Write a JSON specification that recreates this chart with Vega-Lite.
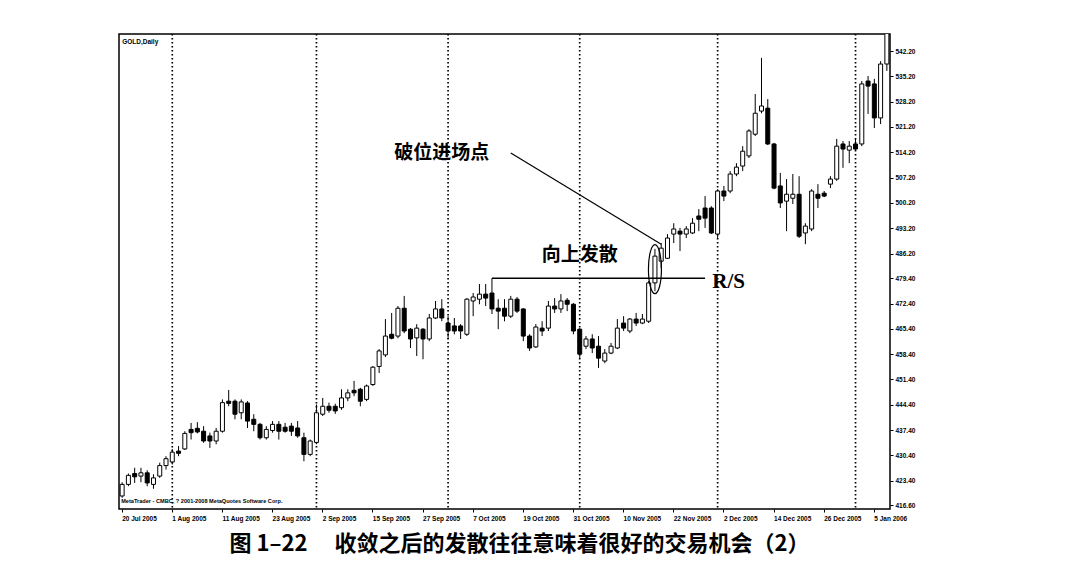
{
  "$schema": "https://vega.github.io/schema/vega-lite/v6.json",
  "width": 771,
  "height": 475,
  "padding": {"left": 119, "top": 33, "right": 5, "bottom": 5},
  "background": "white",
  "title": {"text": "图 1–22　 收敛之后的发散往往意味着很好的交易机会（2）", "orient": "bottom", "anchor": "middle", "font": "Noto Sans CJK SC", "fontSize": 22, "fontWeight": "bold", "color": "black", "offset": 12, "dx": 15},
  "datasets": {
    "gold": [
      {"d":"2005-07-20","o":419.2,"h":423.0,"l":418.7,"c":422.4},
      {"d":"2005-07-21","o":422.4,"h":425.4,"l":421.9,"c":424.9},
      {"d":"2005-07-22","o":425.4,"h":427.0,"l":422.8,"c":424.5},
      {"d":"2005-07-25","o":424.7,"h":427.0,"l":423.0,"c":425.6},
      {"d":"2005-07-26","o":425.6,"h":426.3,"l":421.9,"c":422.8},
      {"d":"2005-07-27","o":422.4,"h":425.2,"l":421.2,"c":424.2},
      {"d":"2005-07-28","o":424.7,"h":428.4,"l":424.2,"c":427.6},
      {"d":"2005-07-29","o":427.6,"h":430.2,"l":426.5,"c":429.5},
      {"d":"2005-08-01","o":428.6,"h":432.2,"l":427.9,"c":431.3},
      {"d":"2005-08-02","o":431.6,"h":433.0,"l":430.2,"c":431.0},
      {"d":"2005-08-03","o":432.2,"h":437.1,"l":431.9,"c":436.5},
      {"d":"2005-08-04","o":437.6,"h":439.4,"l":434.8,"c":436.7},
      {"d":"2005-08-05","o":437.9,"h":439.6,"l":436.5,"c":436.9},
      {"d":"2005-08-08","o":437.1,"h":438.5,"l":433.9,"c":434.4},
      {"d":"2005-08-09","o":435.8,"h":436.7,"l":432.5,"c":434.4},
      {"d":"2005-08-10","o":434.4,"h":438.0,"l":433.5,"c":437.1},
      {"d":"2005-08-11","o":437.1,"h":445.9,"l":436.7,"c":445.0},
      {"d":"2005-08-12","o":445.4,"h":448.5,"l":444.0,"c":444.8},
      {"d":"2005-08-15","o":445.4,"h":445.9,"l":440.4,"c":441.8},
      {"d":"2005-08-16","o":442.2,"h":445.9,"l":440.4,"c":445.2},
      {"d":"2005-08-17","o":444.9,"h":445.4,"l":438.0,"c":439.9},
      {"d":"2005-08-18","o":440.4,"h":441.8,"l":437.1,"c":439.0},
      {"d":"2005-08-19","o":439.0,"h":439.4,"l":434.8,"c":435.3},
      {"d":"2005-08-22","o":435.3,"h":438.5,"l":434.8,"c":437.6},
      {"d":"2005-08-23","o":437.3,"h":439.9,"l":436.7,"c":439.0},
      {"d":"2005-08-24","o":439.0,"h":439.9,"l":434.8,"c":437.1},
      {"d":"2005-08-25","o":438.2,"h":439.4,"l":436.7,"c":437.1},
      {"d":"2005-08-26","o":438.5,"h":439.4,"l":435.8,"c":437.1},
      {"d":"2005-08-29","o":438.0,"h":439.9,"l":435.3,"c":435.8},
      {"d":"2005-08-30","o":435.3,"h":436.7,"l":428.8,"c":430.7},
      {"d":"2005-08-31","o":430.7,"h":434.8,"l":430.2,"c":434.4},
      {"d":"2005-09-01","o":434.0,"h":444.5,"l":433.5,"c":442.2},
      {"d":"2005-09-02","o":441.8,"h":446.3,"l":441.3,"c":444.0},
      {"d":"2005-09-06","o":444.0,"h":445.0,"l":442.2,"c":442.9},
      {"d":"2005-09-07","o":444.0,"h":444.7,"l":441.9,"c":442.7},
      {"d":"2005-09-08","o":443.6,"h":448.7,"l":443.0,"c":446.3},
      {"d":"2005-09-09","o":446.3,"h":448.7,"l":445.4,"c":447.7},
      {"d":"2005-09-12","o":448.4,"h":451.0,"l":446.8,"c":447.7},
      {"d":"2005-09-13","o":448.7,"h":449.1,"l":444.0,"c":445.4},
      {"d":"2005-09-14","o":445.9,"h":450.0,"l":445.4,"c":449.6},
      {"d":"2005-09-15","o":450.0,"h":455.1,"l":449.6,"c":454.8},
      {"d":"2005-09-16","o":455.0,"h":459.8,"l":453.2,"c":459.3},
      {"d":"2005-09-19","o":458.2,"h":468.1,"l":457.6,"c":463.4},
      {"d":"2005-09-20","o":463.9,"h":469.8,"l":462.5,"c":462.8},
      {"d":"2005-09-21","o":463.4,"h":471.7,"l":462.8,"c":471.1},
      {"d":"2005-09-22","o":471.1,"h":474.5,"l":464.2,"c":464.8},
      {"d":"2005-09-23","o":465.3,"h":465.6,"l":460.1,"c":462.6},
      {"d":"2005-09-26","o":462.9,"h":466.7,"l":457.9,"c":465.6},
      {"d":"2005-09-27","o":465.3,"h":465.6,"l":457.0,"c":462.6},
      {"d":"2005-09-28","o":462.6,"h":469.5,"l":462.0,"c":468.4},
      {"d":"2005-09-29","o":468.4,"h":473.1,"l":468.1,"c":470.9},
      {"d":"2005-09-30","o":470.9,"h":473.6,"l":467.5,"c":468.4},
      {"d":"2005-10-03","o":467.0,"h":468.9,"l":462.6,"c":464.8},
      {"d":"2005-10-04","o":466.2,"h":468.4,"l":463.9,"c":464.8},
      {"d":"2005-10-05","o":466.2,"h":466.7,"l":462.6,"c":464.8},
      {"d":"2005-10-06","o":463.9,"h":473.9,"l":463.4,"c":473.6},
      {"d":"2005-10-07","o":473.1,"h":475.3,"l":468.9,"c":474.2},
      {"d":"2005-10-10","o":473.6,"h":477.8,"l":472.2,"c":475.0},
      {"d":"2005-10-11","o":475.0,"h":477.8,"l":471.7,"c":473.9},
      {"d":"2005-10-12","o":475.3,"h":479.4,"l":469.5,"c":470.9},
      {"d":"2005-10-13","o":471.1,"h":473.6,"l":465.3,"c":470.3},
      {"d":"2005-10-14","o":471.1,"h":473.6,"l":467.5,"c":468.9},
      {"d":"2005-10-17","o":468.9,"h":474.5,"l":468.4,"c":473.6},
      {"d":"2005-10-18","o":473.6,"h":474.2,"l":469.8,"c":470.3},
      {"d":"2005-10-19","o":470.9,"h":471.1,"l":462.0,"c":463.4},
      {"d":"2005-10-20","o":463.4,"h":463.9,"l":459.3,"c":460.1},
      {"d":"2005-10-21","o":460.4,"h":466.7,"l":460.1,"c":465.9},
      {"d":"2005-10-24","o":465.6,"h":467.5,"l":463.4,"c":464.8},
      {"d":"2005-10-25","o":465.6,"h":473.1,"l":464.8,"c":471.7},
      {"d":"2005-10-26","o":471.7,"h":473.9,"l":469.8,"c":470.9},
      {"d":"2005-10-27","o":470.9,"h":475.0,"l":469.8,"c":473.1},
      {"d":"2005-10-28","o":473.3,"h":473.9,"l":470.3,"c":472.2},
      {"d":"2005-10-31","o":472.2,"h":472.5,"l":463.9,"c":464.8},
      {"d":"2005-11-01","o":465.3,"h":465.6,"l":457.3,"c":458.4},
      {"d":"2005-11-02","o":460.6,"h":463.4,"l":459.8,"c":462.6},
      {"d":"2005-11-03","o":462.6,"h":463.9,"l":458.7,"c":460.1},
      {"d":"2005-11-04","o":460.6,"h":463.4,"l":454.6,"c":457.3},
      {"d":"2005-11-07","o":456.5,"h":459.8,"l":455.9,"c":458.7},
      {"d":"2005-11-08","o":458.7,"h":461.5,"l":458.4,"c":460.6},
      {"d":"2005-11-09","o":460.1,"h":468.1,"l":459.8,"c":465.6},
      {"d":"2005-11-10","o":467.0,"h":468.9,"l":464.8,"c":465.6},
      {"d":"2005-11-11","o":464.8,"h":468.4,"l":464.2,"c":468.1},
      {"d":"2005-11-14","o":468.1,"h":469.8,"l":466.2,"c":467.0},
      {"d":"2005-11-15","o":467.0,"h":469.5,"l":466.7,"c":468.1},
      {"d":"2005-11-16","o":467.5,"h":478.6,"l":467.0,"c":478.1},
      {"d":"2005-11-17","o":478.1,"h":487.5,"l":475.8,"c":485.5},
      {"d":"2005-11-18","o":484.1,"h":489.1,"l":482.2,"c":487.7},
      {"d":"2005-11-21","o":484.9,"h":491.6,"l":484.7,"c":490.5},
      {"d":"2005-11-22","o":491.6,"h":494.6,"l":489.1,"c":493.0},
      {"d":"2005-11-23","o":492.4,"h":493.3,"l":486.9,"c":491.6},
      {"d":"2005-11-24","o":491.6,"h":493.8,"l":490.5,"c":493.0},
      {"d":"2005-11-25","o":491.9,"h":496.0,"l":491.6,"c":494.6},
      {"d":"2005-11-28","o":496.6,"h":498.5,"l":492.4,"c":495.7},
      {"d":"2005-11-29","o":498.8,"h":502.1,"l":493.3,"c":496.0},
      {"d":"2005-11-30","o":498.8,"h":499.3,"l":491.6,"c":491.9},
      {"d":"2005-12-01","o":491.6,"h":504.0,"l":490.2,"c":503.5},
      {"d":"2005-12-02","o":503.5,"h":504.9,"l":500.7,"c":502.1},
      {"d":"2005-12-05","o":503.5,"h":509.0,"l":502.9,"c":508.2},
      {"d":"2005-12-06","o":508.2,"h":511.2,"l":507.6,"c":510.1},
      {"d":"2005-12-07","o":510.4,"h":515.9,"l":509.0,"c":514.5},
      {"d":"2005-12-08","o":513.2,"h":520.6,"l":512.6,"c":520.1},
      {"d":"2005-12-09","o":519.2,"h":530.3,"l":518.7,"c":525.0},
      {"d":"2005-12-12","o":525.6,"h":540.3,"l":525.0,"c":527.0},
      {"d":"2005-12-13","o":526.4,"h":528.9,"l":516.2,"c":516.5},
      {"d":"2005-12-14","o":516.5,"h":516.8,"l":504.0,"c":504.3},
      {"d":"2005-12-15","o":504.9,"h":508.5,"l":498.8,"c":500.2},
      {"d":"2005-12-16","o":500.7,"h":506.8,"l":492.4,"c":502.6},
      {"d":"2005-12-19","o":501.5,"h":508.2,"l":499.9,"c":502.6},
      {"d":"2005-12-20","o":502.6,"h":507.6,"l":490.5,"c":491.0},
      {"d":"2005-12-21","o":491.9,"h":494.6,"l":488.8,"c":493.8},
      {"d":"2005-12-22","o":493.0,"h":504.0,"l":492.4,"c":503.5},
      {"d":"2005-12-23","o":502.6,"h":505.4,"l":498.8,"c":501.5},
      {"d":"2005-12-26","o":502.9,"h":503.5,"l":501.8,"c":502.1},
      {"d":"2005-12-27","o":505.4,"h":507.6,"l":504.3,"c":506.8},
      {"d":"2005-12-28","o":506.8,"h":517.9,"l":506.3,"c":515.9},
      {"d":"2005-12-29","o":516.5,"h":517.3,"l":509.9,"c":515.1},
      {"d":"2005-12-30","o":514.8,"h":517.3,"l":511.2,"c":515.9},
      {"d":"2006-01-02","o":516.5,"h":517.9,"l":514.6,"c":515.1},
      {"d":"2006-01-03","o":516.5,"h":533.9,"l":515.9,"c":533.1},
      {"d":"2006-01-04","o":533.9,"h":535.3,"l":524.8,"c":532.5},
      {"d":"2006-01-05","o":533.1,"h":534.5,"l":520.9,"c":523.7},
      {"d":"2006-01-06","o":523.7,"h":539.4,"l":522.0,"c":538.6},
      {"d":"2006-01-09","o":538.6,"h":550.5,"l":536.7,"c":549.1}
    ]
  },
  "layer": [
    {
      "data": {"values": [{"d":"2005-08-01"},{"d":"2005-09-01"},{"d":"2005-10-03"},{"d":"2005-11-01"},{"d":"2005-12-01"},{"d":"2006-01-02"}]},
      "mark": {"type": "rule", "color": "black", "strokeWidth": 1.7, "strokeDash": [1.5, 2.5]},
      "encoding": {
        "x": {"field": "d", "type": "ordinal", "scale": {"paddingInner": 0, "paddingOuter": 0},
          "axis": {"orient": "bottom", "title": null, "values": ["2005-07-20","2005-08-01","2005-08-11","2005-08-23","2005-09-02","2005-09-15","2005-09-27","2005-10-07","2005-10-19","2005-10-31","2005-11-10","2005-11-22","2005-12-02","2005-12-14","2005-12-26","2006-01-05"],
            "labelExpr": "utcFormat(toDate(datum.value), '%-d %b %Y')", "labelAngle": 0, "labelAlign": "left", "labelFont": "Liberation Sans", "labelFontSize": 6.5, "labelFontWeight": "bold", "labelColor": "black", "labelPadding": 3, "labelOverlap": false, "tickSize": 3, "tickColor": "black", "domain": false, "grid": false}}
      }
    },
    {
      "data": {"name": "gold"},
      "mark": {"type": "rule", "color": "black", "strokeWidth": 1, "clip": true},
      "encoding": {
        "x": {"field": "d", "type": "ordinal"},
        "y": {"field": "l", "type": "quantitative", "scale": {"domain": [415.6, 546.9], "nice": false, "zero": false},
          "axis": {"orient": "right", "title": null, "values": [416.6, 423.4, 430.4, 437.4, 444.4, 451.4, 458.4, 465.4, 472.4, 479.4, 486.2, 493.2, 500.2, 507.2, 514.2, 521.2, 528.2, 535.2, 542.2], "tickCount": 40, "format": ".2f", "labelFont": "Liberation Sans", "labelFontSize": 6.5, "labelFontWeight": "bold", "labelColor": "black", "labelPadding": 2, "labelOverlap": false, "labelFlush": false, "tickSize": 3, "tickColor": "black", "domain": false, "grid": false}},
        "y2": {"field": "h"}
      }
    },
    {
      "data": {"name": "gold"},
      "mark": {"type": "bar", "width": 4, "stroke": "black", "strokeWidth": 1, "clip": true},
      "encoding": {
        "x": {"field": "d", "type": "ordinal"},
        "y": {"field": "o", "type": "quantitative"},
        "y2": {"field": "c"},
        "fill": {"condition": {"test": "datum.c >= datum.o", "value": "white"}, "value": "black"}
      }
    },
    {
      "data": {"values": [{"d":"2005-10-12","d2":"2005-11-29","p":479.4}]},
      "mark": {"type": "rule", "color": "black", "strokeWidth": 1.5},
      "encoding": {
        "x": {"field": "d", "type": "ordinal"},
        "x2": {"field": "d2"},
        "y": {"field": "p", "type": "quantitative"}
      }
    },
    {
      "data": {"values": [{"d":"2005-10-17","p":514.0,"d2":"2005-11-18","p2":488.8}]},
      "mark": {"type": "rule", "color": "black", "strokeWidth": 1.2},
      "encoding": {
        "x": {"field": "d", "type": "ordinal"},
        "x2": {"field": "d2"},
        "y": {"field": "p", "type": "quantitative"},
        "y2": {"field": "p2"}
      }
    },
    {
      "data": {"values": [{"d":"2005-11-17","p":481.9}]},
      "mark": {"type": "point", "shape": "M0,-1A0.265,1,0,1,1,0,1A0.265,1,0,1,1,0,-1Z", "size": 2401, "filled": false, "stroke": "black", "strokeWidth": 1.2, "opacity": 1},
      "encoding": {
        "x": {"field": "d", "type": "ordinal"},
        "y": {"field": "p", "type": "quantitative"}
      }
    },
    {
      "data": {"values": [{"d":"2005-09-30","p":514.0,"t":"破位进场点"},{"d":"2005-11-01","p":485.8,"t":"向上发散"}]},
      "mark": {"type": "text", "font": "Noto Sans CJK SC", "fontSize": 19, "fontWeight": "bold", "color": "black", "align": "center", "baseline": "middle"},
      "encoding": {
        "x": {"field": "d", "type": "ordinal"},
        "y": {"field": "p", "type": "quantitative"},
        "text": {"field": "t"}
      }
    },
    {
      "data": {"values": [{"d":"2005-11-30","p":476.7,"t":"R/S"}]},
      "mark": {"type": "text", "font": "Liberation Serif", "fontSize": 21, "fontWeight": "bold", "color": "black", "align": "left", "baseline": "alphabetic", "dx": 1},
      "encoding": {
        "x": {"field": "d", "type": "ordinal"},
        "y": {"field": "p", "type": "quantitative"},
        "text": {"field": "t"}
      }
    },
    {
      "data": {"values": [{"d":"2005-07-20","p":544.8,"t":"GOLD,Daily"}]},
      "mark": {"type": "text", "font": "Liberation Sans", "fontSize": 6.5, "fontWeight": "bold", "color": "black", "align": "left", "baseline": "middle", "dx": 0},
      "encoding": {
        "x": {"field": "d", "type": "ordinal"},
        "y": {"field": "p", "type": "quantitative"},
        "text": {"field": "t"}
      }
    },
    {
      "data": {"values": [{"d":"2005-07-20","p":417.9,"t":"MetaTrader - CMBC, ? 2001-2008 MetaQuotes Software Corp."}]},
      "mark": {"type": "text", "font": "Liberation Sans", "fontSize": 5.6, "fontWeight": "bold", "color": "black", "align": "left", "baseline": "middle", "dx": -1},
      "encoding": {
        "x": {"field": "d", "type": "ordinal"},
        "y": {"field": "p", "type": "quantitative"},
        "text": {"field": "t"}
      }
    }
  ],
  "config": {
    "view": {"stroke": "black", "strokeWidth": 1.5}
  }
}
